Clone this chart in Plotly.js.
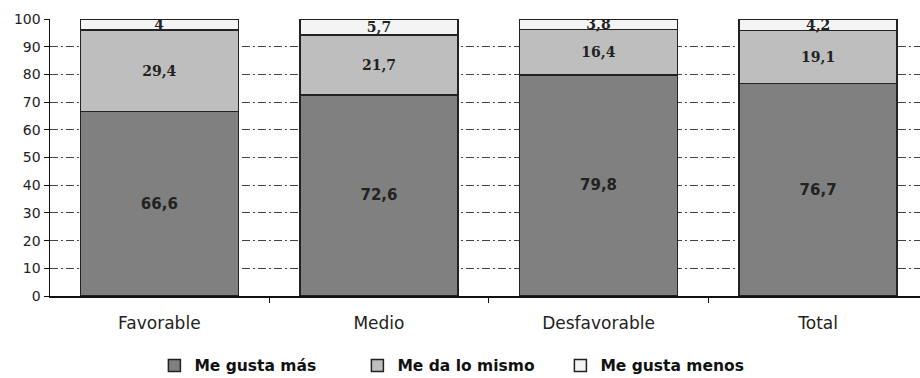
<!DOCTYPE html>
<html>
<head>
<meta charset="utf-8">
<script src="https://cdn.plot.ly/plotly-3.0.1.min.js"></script>
<style>html,body{margin:0;padding:0;background:#fff;}#chart{width:920px;height:378px;}</style>
</head>
<body>
<div id="chart"></div>
<script>
var categories = ["Favorable", "Medio", "Desfavorable", "Total"];
var seriesNames = ["Me gusta más", "Me da lo mismo", "Me gusta menos"];
var gustaMas = [66.6, 72.6, 79.8, 76.7];
var daLoMismo = [29.4, 21.7, 16.4, 19.1];
var gustaMenos = [4, 5.7, 3.8, 4.2];
var yTicks = [0, 10, 20, 30, 40, 50, 60, 70, 80, 90, 100];
var gridVals = [10, 20, 30, 40, 50, 60, 70, 80, 90];

function lbl(arr) { return arr.map(function (v) { return String(v).replace('.', ','); }); }

var outline = {color: '#222', width: 1.5};
var traces = [
  {type: 'bar', name: seriesNames[0], x: categories, y: gustaMas, text: lbl(gustaMas),
   textposition: 'inside', insidetextanchor: 'middle', constraintext: 'none', textangle: 0,
   textfont: {family: 'DejaVu Sans', size: 15, color: '#222', weight: 'bold'},
   marker: {color: '#808080', line: outline}, hoverinfo: 'skip'},
  {type: 'bar', name: seriesNames[1], x: categories, y: daLoMismo, text: lbl(daLoMismo),
   textposition: 'inside', insidetextanchor: 'middle', constraintext: 'none', textangle: 0,
   textfont: {family: 'DejaVu Serif', size: 14, color: '#222', weight: 'bold'},
   marker: {color: '#bebebe', line: outline}, hoverinfo: 'skip'},
  {type: 'bar', name: seriesNames[2], x: categories, y: gustaMenos, text: lbl(gustaMenos),
   textposition: 'inside', insidetextanchor: 'middle', constraintext: 'none', textangle: 0,
   textfont: {family: 'DejaVu Serif', size: 14, color: '#222', weight: 'bold'},
   marker: {color: '#f4f4f4', line: outline}, hoverinfo: 'skip'},
  {type: 'scatter', x: [], y: [], yaxis: 'y2', showlegend: false, hoverinfo: 'skip'}
];

var layout = {
  width: 920, height: 378,
  margin: {l: 50, r: 0, t: 19, b: 82, autoexpand: false},
  paper_bgcolor: '#fff', plot_bgcolor: 'rgba(0,0,0,0)',
  barmode: 'stack', bargap: 0.28,
  showlegend: true,
  legend: {orientation: 'h', x: 0.12, xanchor: 'left', y: -0.252, yanchor: 'middle',
           traceorder: 'normal', entrywidth: 158,
           font: {family: 'DejaVu Sans', size: 15.5, color: '#111', weight: 'bold'}},
  xaxis: {range: [-0.498, 3.464], automargin: false, showgrid: false, showline: true, linecolor: '#111', linewidth: 1.5,
          ticks: 'outside', tickson: 'boundaries', ticklen: 5, tickcolor: '#111', ticklabelstandoff: 11,
          tickfont: {family: 'DejaVu Sans', size: 17, color: '#222'}, zeroline: false},
  yaxis: {range: [0, 100], automargin: false, tickvals: yTicks, showgrid: false, showline: true, linecolor: '#111', linewidth: 1.5,
          ticks: 'outside', ticklen: 5, tickcolor: '#111', zeroline: false,
          tickfont: {family: 'DejaVu Sans', size: 14, color: '#222'}},
  yaxis2: {overlaying: 'y', range: [0, 100], automargin: false, tickvals: gridVals, showgrid: true, gridcolor: '#444',
           gridwidth: 1, griddash: '8px,3px,2px,3px', showticklabels: false, ticks: '',
           showline: false, zeroline: false}
};

Plotly.newPlot('chart', traces, layout, {displayModeBar: false, staticPlot: true});
</script>
</body>
</html>
